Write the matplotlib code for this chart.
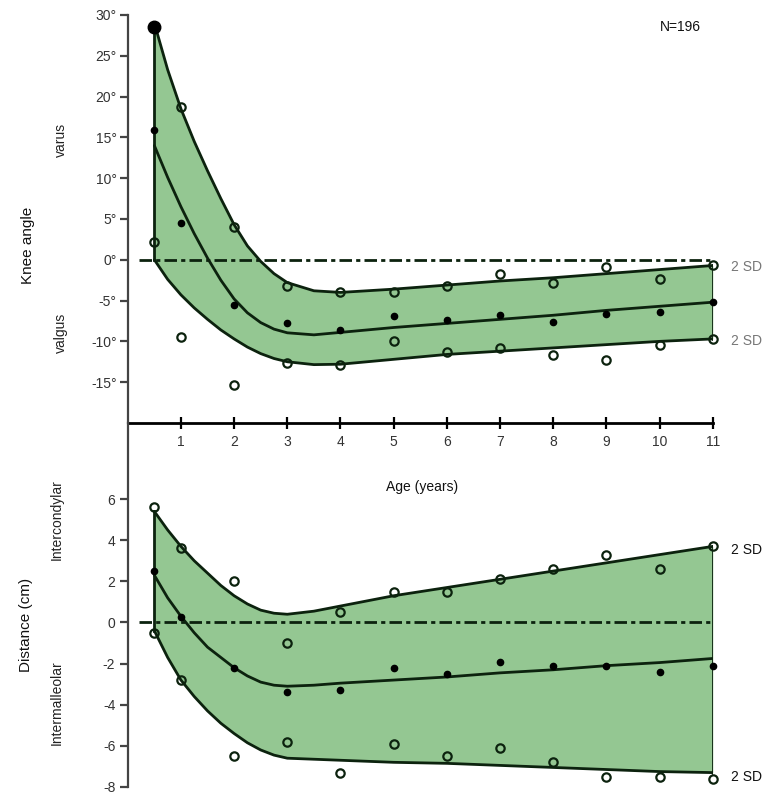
import matplotlib
matplotlib.use("Agg")
import matplotlib.pyplot as plt

plt.rcParams['font.family'] = ['Liberation Sans', 'DejaVu Sans']
plt.rcParams['lines.scale_dashes'] = False

# ---------------- data ----------------
ages = [0.5, 1, 2, 3, 4, 5, 6, 7, 8, 9, 10, 11]
age_ticks = [1, 2, 3, 4, 5, 6, 7, 8, 9, 10, 11]

# Knee angle (degrees) observed points
knee_upper_pts = [28.5, 18.7, 4.0, -3.2, -3.9, -3.9, -3.2, -1.8, -2.9, -0.9, -2.3, -0.7]
knee_mean_pts = [15.9, 4.5, -5.6, -7.8, -8.6, -6.9, -7.4, -6.8, -7.6, -6.6, -6.4, -5.2]
knee_lower_pts = [2.2, -9.5, -15.3, -12.7, -12.9, -10.0, -11.3, -10.8, -11.7, -12.3, -10.5, -9.7]

# Knee angle fitted curves
curve_ages = [0.5, 0.75, 1.0, 1.25, 1.5, 1.75, 2.0, 2.25, 2.5, 2.75, 3.0, 3.5, 4, 5, 6, 7, 8, 9, 10, 11]
knee_upper_curve = [29.0, 23.3, 18.5, 14.5, 10.9, 7.5, 4.3, 1.7, -0.2, -1.7, -2.8, -3.8, -4.0, -3.6, -3.1, -2.6, -2.2, -1.7, -1.2, -0.7]
knee_mean_curve = [14.0, 10.1, 6.5, 3.2, 0.2, -2.5, -4.8, -6.5, -7.7, -8.5, -8.95, -9.2, -8.9, -8.3, -7.8, -7.3, -6.8, -6.2, -5.7, -5.2]
knee_lower_curve = [0.0, -2.4, -4.3, -5.9, -7.3, -8.6, -9.7, -10.7, -11.5, -12.1, -12.5, -12.85, -12.8, -12.2, -11.6, -11.2, -10.8, -10.4, -10.0, -9.7]
knee_yticks = [-15, -10, -5, 0, 5, 10, 15, 20, 25, 30]

# Distance (cm) observed points
dist_upper_pts = [5.6, 3.6, 2.0, -1.0, 0.5, 1.5, 1.5, 2.1, 2.6, 3.3, 2.6, 3.7]
dist_mean_pts = [2.5, 0.25, -2.2, -3.4, -3.3, -2.2, -2.5, -1.9, -2.1, -2.1, -2.4, -2.1]
dist_lower_pts = [-0.5, -2.8, -6.5, -5.8, -7.3, -5.9, -6.5, -6.1, -6.8, -7.5, -7.5, -7.6]

# Distance fitted curves
dist_upper_curve = [5.4, 4.5, 3.7, 3.0, 2.4, 1.8, 1.3, 0.9, 0.6, 0.45, 0.4, 0.55, 0.8, 1.3, 1.7, 2.1, 2.5, 2.9, 3.3, 3.7]
dist_mean_curve = [2.3, 1.2, 0.3, -0.5, -1.2, -1.7, -2.2, -2.6, -2.9, -3.05, -3.1, -3.05, -2.95, -2.8, -2.65, -2.45, -2.3, -2.1, -1.95, -1.75]
dist_lower_curve = [-0.4, -1.7, -2.8, -3.6, -4.3, -4.9, -5.4, -5.85, -6.2, -6.45, -6.6, -6.65, -6.7, -6.8, -6.85, -6.95, -7.05, -7.15, -7.25, -7.3]
dist_yticks = [-8, -6, -4, -2, 0, 2, 4, 6]

# ---------------- style ----------------
FILL = '#94c792'
LINE = '#0c220e'
TXT = '#333333'

W, H = 780, 797
fig = plt.figure(figsize=(W / 100, H / 100), dpi=100)
ax1 = fig.add_axes([0.1638, 0.4693, 0.750, 0.5119])
ax2 = fig.add_axes([0.1638, 0.01255, 0.750, 0.4567])


def band(ax, up_c, mean_c, lo_c, up_p, mean_p, lo_p, big_first=False):
    ax.fill_between(curve_ages, lo_c, up_c, color=FILL, lw=0, zorder=1)
    for c in (up_c, mean_c, lo_c):
        ax.plot(curve_ages, c, color=LINE, lw=2.0, zorder=3,
                solid_capstyle='round', solid_joinstyle='round')
    ax.plot([curve_ages[0], curve_ages[0]], [lo_c[0], up_c[0]], color=LINE, lw=2.0, zorder=3)
    ax.plot([curve_ages[-1], curve_ages[-1]], [lo_c[-1], up_c[-1]], color=LINE, lw=2.0, zorder=3)
    ax.axhline(0, xmin=0.02, xmax=1.0, color=LINE, lw=2.0, dashes=(9, 3, 3, 3), zorder=2)
    start = 1 if big_first else 0
    ax.plot(ages[start:], up_p[start:], ls='none', marker='o', ms=6, mfc='none', mec=LINE, mew=1.6, zorder=4, clip_on=False)
    if big_first:
        ax.plot(ages[:1], up_p[:1], ls='none', marker='o', ms=9, mfc='black', mec='black', zorder=4, clip_on=False)
    ax.plot(ages, lo_p, ls='none', marker='o', ms=6, mfc='none', mec=LINE, mew=1.6, zorder=4, clip_on=False)
    ax.plot(ages, mean_p, ls='none', marker='o', ms=4.5, mfc='black', mec='black', zorder=4, clip_on=False)


band(ax1, knee_upper_curve, knee_mean_curve, knee_lower_curve,
     knee_upper_pts, knee_mean_pts, knee_lower_pts, big_first=True)
band(ax2, dist_upper_curve, dist_mean_curve, dist_lower_curve,
     dist_upper_pts, dist_mean_pts, dist_lower_pts)

# ---- top axes ----
ax1.set_xlim(0, 11)
ax1.set_ylim(-20, 30)
for s in ['top', 'right']:
    ax1.spines[s].set_visible(False)
ax1.spines['left'].set_color('#444444')
ax1.spines['left'].set_linewidth(1.6)
ax1.spines['bottom'].set_color('black')
ax1.spines['bottom'].set_linewidth(2.0)
ax1.set_yticks(knee_yticks)
ax1.set_yticklabels([f'{v}°' for v in knee_yticks])
ax1.set_xticks(age_ticks)
ax1.set_xticklabels([str(v) for v in age_ticks])
ax1.tick_params(axis='y', direction='out', length=6, width=1.6, color='#444444',
                labelsize=10, labelcolor=TXT, pad=2)
ax1.tick_params(axis='x', direction='inout', length=9, width=1.6, color='black',
                labelsize=10, labelcolor=TXT, pad=4)
ax1.set_facecolor('none')

# ---- bottom axes ----
ax2.set_xlim(0, 11)
ax2.set_ylim(-8, 9.7)
for s in ['top', 'right', 'bottom']:
    ax2.spines[s].set_visible(False)
ax2.spines['left'].set_color('#444444')
ax2.spines['left'].set_linewidth(1.6)
ax2.set_xticks([])
ax2.set_yticks(dist_yticks)
ax2.set_yticklabels([str(v) for v in dist_yticks])
ax2.tick_params(axis='y', direction='out', length=6, width=1.6, color='#444444',
                labelsize=10, labelcolor=TXT, pad=3)
ax2.set_facecolor('none')


def ftext(x, y, s, **kw):
    fig.text(x / W, 1 - y / H, s, **kw)


ftext(680, 27, 'N=196', ha='center', va='center', fontsize=10, color='#111111')
ftext(422, 487, 'Age (years)', ha='center', va='center', fontsize=10, color='#111111')
ftext(28, 245, 'Knee angle', rotation=90, ha='center', va='center', fontsize=11, color='#111111')
ftext(61, 140, 'varus', rotation=90, ha='center', va='center', fontsize=10, color='#222222')
ftext(61, 333, 'valgus', rotation=90, ha='center', va='center', fontsize=10, color='#222222')
ftext(26, 625, 'Distance (cm)', rotation=90, ha='center', va='center', fontsize=11, color='#111111')
ftext(57, 520, 'Intercondylar', rotation=90, ha='center', va='center', fontsize=10, color='#222222')
ftext(57, 703, 'Intermalleolar', rotation=90, ha='center', va='center', fontsize=10, color='#222222')

ftext(731, 267, '2 SD', ha='left', va='center', fontsize=10, color='#777777')
ftext(731, 341, '2 SD', ha='left', va='center', fontsize=10, color='#777777')
ftext(731, 550, '2 SD', ha='left', va='center', fontsize=10, color='#111111')
ftext(731, 777, '2 SD', ha='left', va='center', fontsize=10, color='#111111')

fig.savefig('out.png', dpi=100, facecolor='white')
